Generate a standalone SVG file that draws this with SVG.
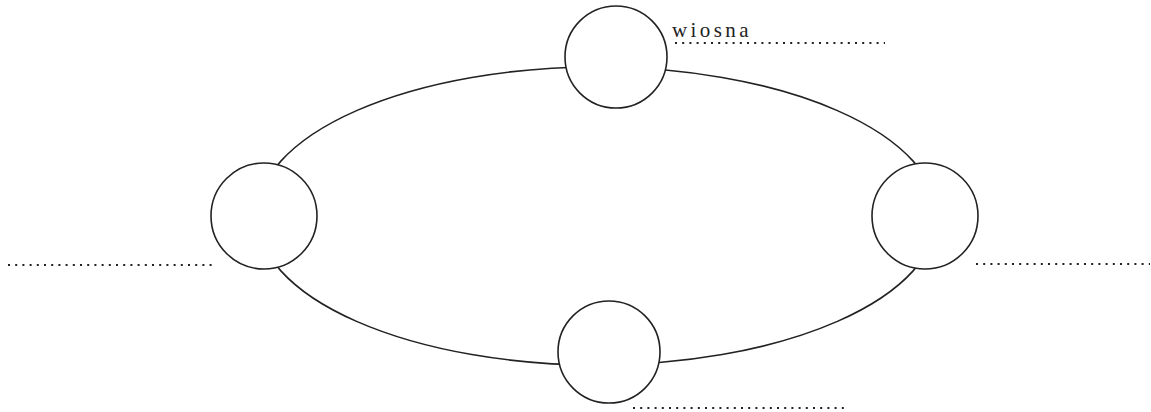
<svg xmlns="http://www.w3.org/2000/svg" width="1151" height="412" viewBox="0 0 1151 412">
<style>
.orbit{fill:none;stroke:#222;stroke-width:1.6}
.node{fill:#fff;stroke:#222;stroke-width:1.6}
.dots{fill:none;stroke:#222;stroke-width:2.2;stroke-dasharray:2 5.2}
.lbl{font-family:"Liberation Serif",serif;font-size:21px;fill:#222;letter-spacing:3.4px}
</style>
<rect width="1151" height="412" fill="#fff"/>
<g id="connectors">
<ellipse class="orbit" cx="597" cy="216" rx="340" ry="149"/>
</g>
<g id="node-top"><circle class="node" cx="616" cy="57" r="51"/></g>
<g id="node-left"><circle class="node" cx="264" cy="216" r="53"/></g>
<g id="node-right"><circle class="node" cx="925" cy="216" r="53"/></g>
<g id="node-bottom"><circle class="node" cx="609" cy="352" r="51"/></g>
<g id="labels">
<text class="lbl" x="672" y="37">wiosna</text>
<line class="dots" x1="675" y1="43" x2="885" y2="43"/>
<line class="dots" x1="8" y1="265" x2="214" y2="265"/>
<line class="dots" x1="976" y1="264" x2="1150" y2="264"/>
<line class="dots" x1="633" y1="408" x2="849" y2="408"/>
</g>
</svg>
